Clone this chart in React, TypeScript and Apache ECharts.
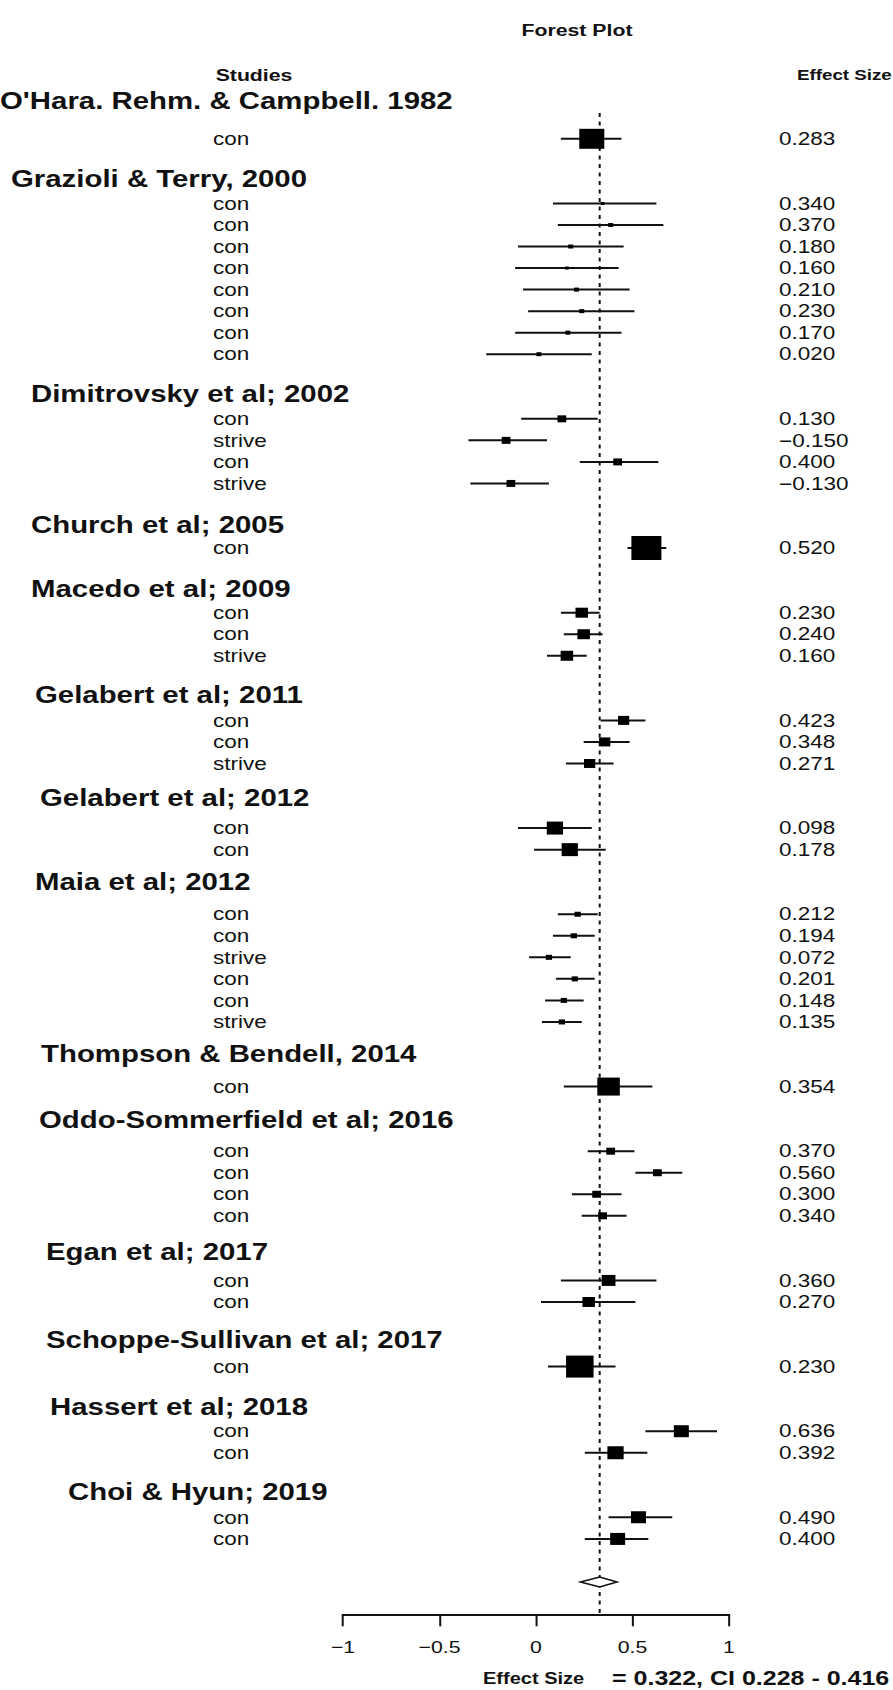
import React, { useEffect, useRef } from "react";
import * as echarts from "echarts";

// ---------------- data ----------------
const studies = [
  "O'Hara. Rehm. & Campbell. 1982",
  "Grazioli & Terry, 2000",
  "Dimitrovsky et al; 2002",
  "Church et al; 2005",
  "Macedo et al; 2009",
  "Gelabert et al; 2011",
  "Gelabert et al; 2012",
  "Maia et al; 2012",
  "Thompson & Bendell, 2014",
  "Oddo-Sommerfield et al; 2016",
  "Egan et al; 2017",
  "Schoppe-Sullivan et al; 2017",
  "Hassert et al; 2018",
  "Choi & Hyun; 2019",
];

const rowStudy = [
  0,
  1, 1, 1, 1, 1, 1, 1, 1,
  2, 2, 2, 2,
  3,
  4, 4, 4,
  5, 5, 5,
  6, 6,
  7, 7, 7, 7, 7, 7,
  8,
  9, 9, 9, 9,
  10, 10,
  11,
  12, 12,
  13, 13,
];

const rowLabels = [
  "con",
  "con", "con", "con", "con", "con", "con", "con", "con",
  "con", "strive", "con", "strive",
  "con",
  "con", "con", "strive",
  "con", "con", "strive",
  "con", "con",
  "con", "con", "strive", "con", "con", "strive",
  "con",
  "con", "con", "con", "con",
  "con", "con",
  "con",
  "con", "con",
  "con", "con",
];

// effect sizes (r) printed in the right column
const effectSize = [
  0.283,
  0.34, 0.37, 0.18, 0.16, 0.21, 0.23, 0.17, 0.02,
  0.13, -0.15, 0.4, -0.13,
  0.52,
  0.23, 0.24, 0.16,
  0.423, 0.348, 0.271,
  0.098, 0.178,
  0.212, 0.194, 0.072, 0.201, 0.148, 0.135,
  0.354,
  0.37, 0.56, 0.3, 0.34,
  0.36, 0.27,
  0.23,
  0.636, 0.392,
  0.49, 0.4,
];

// plotted estimate and confidence limits
const plotEst = [
  0.289,
  0.345, 0.387, 0.18, 0.16, 0.21, 0.237, 0.165, 0.015,
  0.134, -0.155, 0.423, -0.13,
  0.572,
  0.237, 0.247, 0.16,
  0.454, 0.356, 0.278,
  0.098, 0.175,
  0.216, 0.196, 0.067, 0.201, 0.144, 0.134,
  0.376,
  0.387, 0.629, 0.314, 0.345,
  0.376, 0.273,
  0.227,
  0.753, 0.412,
  0.531, 0.423,
];

const plotLower = [
  0.129,
  0.088, 0.113, -0.093, -0.108, -0.067, -0.041, -0.108, -0.258,
  -0.077, -0.35, 0.227, -0.34,
  0.474,
  0.129, 0.144, 0.057,
  0.335, 0.247, 0.155,
  -0.093, -0.01,
  0.113, 0.088, -0.036, 0.103, 0.047, 0.031,
  0.144,
  0.268, 0.515, 0.186, 0.237,
  0.129, 0.026,
  0.062,
  0.567, 0.253,
  0.376, 0.253,
];

const plotUpper = [
  0.443,
  0.624, 0.66, 0.454, 0.428, 0.485, 0.51, 0.443, 0.289,
  0.32, 0.057, 0.634, 0.067,
  0.675,
  0.33, 0.345, 0.263,
  0.567, 0.485, 0.402,
  0.289, 0.361,
  0.32, 0.304, 0.18, 0.304, 0.247, 0.237,
  0.603,
  0.51, 0.758, 0.443, 0.469,
  0.624, 0.515,
  0.412,
  0.938, 0.577,
  0.706, 0.582,
];

// box (weight) sizes
const boxWeight = [
  20,
  3, 4, 4, 3, 4, 4, 4, 4,
  7, 7, 7, 7,
  24,
  10, 10, 10,
  9, 9, 9,
  13, 13,
  5, 5, 5, 5, 5, 5,
  18,
  7, 7, 7, 7,
  11, 10,
  22,
  12, 13,
  12, 12,
];

const summaryText = [0.322, 0.228, 0.416]; // estimate, lower, upper
const summaryPlot = [0.33, 0.23, 0.42]; // estimate, lower, upper (plotted)
const xTicks = [-1, -0.5, 0, 0.5, 1];

// ---------------- layout ----------------
const CHART_W = 714;
const S = 893 / CHART_W; // horizontal stretch of the picture
const titleIndent = [0, 11, 31, 31, 31, 35, 40, 35, 41, 39, 46, 46, 50, 68];
const titleLift = [16, 3, 3, 1, 2, 4, 9, 11, 11, 10, 7, 5, 3, 4];
const FONT = "'Liberation Sans', Arial, Helvetica, sans-serif";

type Line = { kind: "title" | "row" | "blank" | "summary"; ref: number };

function buildLines(): Line[] {
  const lines: Line[] = [];
  studies.forEach((_, g) => {
    if (g > 0) lines.push({ kind: "blank", ref: -1 });
    lines.push({ kind: "title", ref: g });
    rowStudy.forEach((s, r) => {
      if (s === g) lines.push({ kind: "row", ref: r });
    });
  });
  lines.push({ kind: "blank", ref: -1 });
  lines.push({ kind: "summary", ref: -1 });
  lines.push({ kind: "blank", ref: -1 });
  return lines;
}

const fmt = (v: number) => v.toFixed(3).replace("-", "\u2212");

export default function App() {
  const ref = useRef<HTMLDivElement>(null);

  useEffect(() => {
    if (!ref.current) return;
    const chart = echarts.init(ref.current, undefined, { renderer: "svg" });
    const lines = buildLines();
    const names = lines.map((_, i) => "L" + i);
    const rowLine: number[] = [];
    lines.forEach((ln, i) => {
      if (ln.kind === "row") rowLine[ln.ref] = i;
    });
    const summaryLine = lines.findIndex((l) => l.kind === "summary");

    const gridLeft = 343 / S;
    const gridRight = CHART_W - 729 / S;

    const yBase = {
      type: "category",
      inverse: true,
      axisLine: { show: false },
      axisTick: { show: false },
      splitLine: { show: false },
    };

    const titleData = lines.map((ln, i) =>
      ln.kind === "title"
        ? {
            value: names[i],
            textStyle: {
              align: "left",
              color: "#111",
              fontFamily: FONT,
              padding: [0, 0, 0, titleIndent[ln.ref] / S],
            },
          }
        : names[i]
    );

    const titleRich: any = {
      t: { fontSize: 23.5, fontWeight: "bold", color: "#111", fontFamily: FONT },
    };
    titleLift.forEach((l, g) => {
      titleRich["g" + g] = { fontSize: 1, height: 2 * l, lineHeight: 2 * l };
    });

    const rowData = rowLabels.map((_, r) => [
      plotLower[r],
      plotUpper[r],
      plotEst[r],
      rowLine[r],
      boxWeight[r],
    ]);

    const option: any = {
      animation: false,
      backgroundColor: "#fff",
      textStyle: { fontFamily: FONT },
      title: [
        {
          text: "Forest Plot",
          left: 577 / S,
          top: 22,
          textAlign: "center",
          padding: 0,
          textStyle: { fontSize: 17, fontWeight: "bold", color: "#111", fontFamily: FONT },
        },
        {
          text: "Studies",
          left: 254 / S,
          top: 67,
          textAlign: "center",
          padding: 0,
          textStyle: { fontSize: 17, fontWeight: "bold", color: "#111", fontFamily: FONT },
        },
        {
          text: "Effect Size",
          left: 797 / S,
          top: 68,
          padding: 0,
          textStyle: { fontSize: 15, fontWeight: "bold", color: "#111", fontFamily: FONT },
        },
        {
          text: "Effect Size",
          left: 483 / S,
          top: 1671,
          padding: 0,
          textStyle: { fontSize: 16, fontWeight: "bold", color: "#111", fontFamily: FONT },
        },
        {
          text: `= ${summaryText[0].toFixed(3)}, CI ${summaryText[1].toFixed(3)} - ${summaryText[2].toFixed(3)}`,
          left: 612 / S,
          top: 1668,
          padding: 0,
          textStyle: { fontSize: 20, fontWeight: "bold", color: "#111", fontFamily: FONT },
        },
      ],
      grid: {
        left: gridLeft,
        right: gridRight,
        top: 106.5,
        height: 21.54 * lines.length,
        containLabel: false,
        outerBoundsMode: "none",
      },
      xAxis: {
        type: "value",
        min: xTicks[0],
        max: xTicks[xTicks.length - 1],
        interval: xTicks[1] - xTicks[0],
        position: "bottom",
        splitLine: { show: false },
        axisLine: { show: true, lineStyle: { color: "#111", width: 2 } },
        axisTick: { show: true, length: 12, lineStyle: { color: "#111", width: 1.6 } },
        axisLabel: {
          fontSize: 17,
          color: "#111",
          margin: 24,
          fontFamily: FONT,
          formatter: (v: number) => String(v).replace("-", "\u2212"),
        },
      },
      yAxis: [
        {
          ...yBase,
          position: "left",
          data: names,
          axisLabel: {
            interval: 0,
            align: "left",
            margin: (343 - 213) / S,
            fontSize: 18,
            color: "#111",
            fontFamily: FONT,
            formatter: (_: string, i: number) =>
              lines[i].kind === "row" ? rowLabels[lines[i].ref] : "",
          },
        },
        {
          ...yBase,
          position: "left",
          data: titleData,
          axisLabel: {
            interval: 0,
            align: "left",
            margin: 343 / S,
            fontSize: 23.5,
            fontWeight: "bold",
            color: "#111",
            fontFamily: FONT,
            rich: titleRich,
            formatter: (_: string, i: number) => {
              if (lines[i].kind !== "title") return "";
              const g = lines[i].ref;
              return `{t|${studies[g]}}\n{g${g}| }`;
            },
          },
        },
        {
          ...yBase,
          position: "right",
          data: names,
          axisLabel: {
            interval: 0,
            align: "left",
            margin: (779 - 729) / S,
            fontSize: 18,
            color: "#111",
            fontFamily: FONT,
            formatter: (_: string, i: number) =>
              lines[i].kind === "row" ? fmt(effectSize[lines[i].ref]) : "",
          },
        },
      ],
      series: [
        {
          type: "custom",
          name: "summary",
          xAxisIndex: 0,
          yAxisIndex: 0,
          encode: { x: [0, 1, 2], y: 3 },
          data: [[summaryPlot[1], summaryPlot[2], summaryPlot[0], summaryLine]],
          renderItem: (params: any, api: any) => {
            const k = api.value(3);
            const lo = api.coord([api.value(0), k]);
            const hi = api.coord([api.value(1), k]);
            const c = api.coord([api.value(2), k]);
            const cs = params.coordSys;
            const h = 5;
            return {
              type: "group",
              children: [
                {
                  type: "line",
                  shape: { x1: c[0], y1: cs.y + 6.5, x2: c[0], y2: cs.y + cs.height },
                  style: { stroke: "#111", lineWidth: 1.6, lineDash: [4, 4.5] },
                },
                {
                  type: "polygon",
                  shape: {
                    points: [
                      [lo[0], lo[1]],
                      [c[0], c[1] - h],
                      [hi[0], hi[1]],
                      [c[0], c[1] + h],
                    ],
                  },
                  style: { fill: "#fff", stroke: "#111", lineWidth: 1.5 },
                },
              ],
            };
          },
        },
        {
          type: "custom",
          name: "studies",
          xAxisIndex: 0,
          yAxisIndex: 0,
          encode: { x: [0, 1, 2], y: 3 },
          data: rowData,
          renderItem: (_params: any, api: any) => {
            const k = api.value(3);
            const lo = api.coord([api.value(0), k]);
            const hi = api.coord([api.value(1), k]);
            const c = api.coord([api.value(2), k]);
            const s = api.value(4);
            return {
              type: "group",
              children: [
                {
                  type: "line",
                  shape: { x1: lo[0], y1: lo[1], x2: hi[0], y2: hi[1] },
                  style: { stroke: "#111", lineWidth: 2 },
                },
                {
                  type: "rect",
                  shape: { x: c[0] - s / 2, y: c[1] - s / 2, width: s, height: s },
                  style: { fill: "#000" },
                },
              ],
            };
          },
        },
      ],
    };

    chart.setOption(option);
    return () => chart.dispose();
  }, []);

  return (
    <div
      ref={ref}
      style={{
        position: "absolute",
        left: 0,
        top: 0,
        width: CHART_W,
        height: 1690,
        transform: `scaleX(${S})`,
        transformOrigin: "0 0",
        background: "#fff",
      }}
    />
  );
}
